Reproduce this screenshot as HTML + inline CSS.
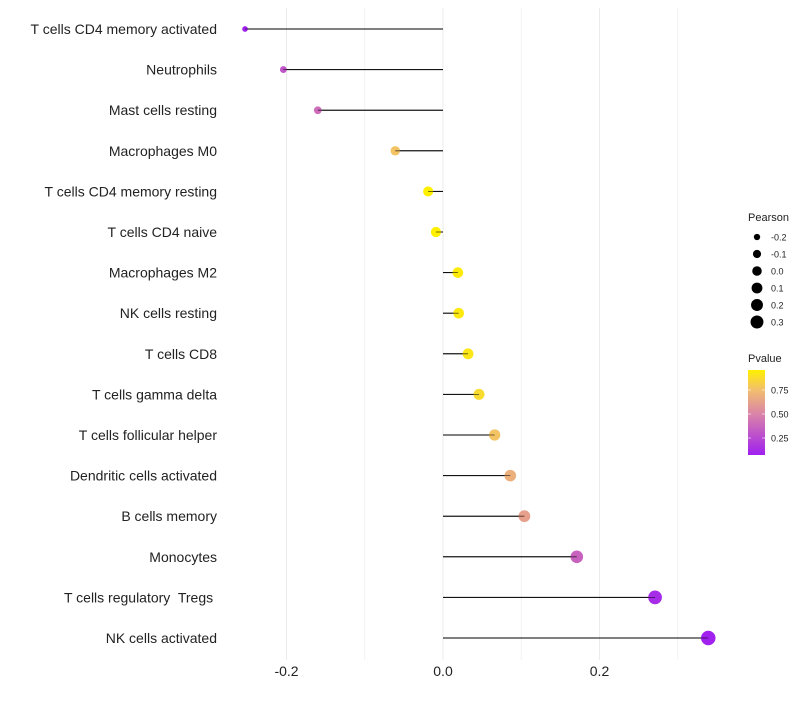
<!DOCTYPE html>
<html><head><meta charset="utf-8"><style>
body{margin:0;background:#fff;font-family:"Liberation Sans",sans-serif}
text{white-space:pre}
</style></head><body>
<svg id="c" width="800" height="700" xmlns="http://www.w3.org/2000/svg" font-family="Liberation Sans, sans-serif"></svg>
<script>
const categories=["T cells CD4 memory activated","Neutrophils","Mast cells resting","Macrophages M0","T cells CD4 memory resting","T cells CD4 naive","Macrophages M2","NK cells resting","T cells CD8","T cells gamma delta","T cells follicular helper","Dendritic cells activated","B cells memory","Monocytes","T cells regulatory  Tregs ","NK cells activated"];
const pearson=[-0.253,-0.204,-0.160,-0.061,-0.019,-0.009,0.019,0.020,0.032,0.046,0.066,0.086,0.104,0.171,0.271,0.339];
const pvalues=[0.08,0.30,0.40,0.77,0.96,0.96,0.94,0.93,0.92,0.87,0.77,0.69,0.62,0.36,0.12,0.08];
const xTicks=[-0.2,0.0,0.2];
const xMinor=[-0.1,0.1,0.3];
const sizeLegend=[-0.2,-0.1,0.0,0.1,0.2,0.3];
const colorTicks=[0.25,0.5,0.75];
const svg=document.getElementById('c');
const NS='http://www.w3.org/2000/svg';
const X=v=>443+v*782.5;
const Y=i=>29+i*40.6;
const R=v=>Math.max(1.8,Math.sqrt(Math.max(0,27+75*v)));
function lerp(a,b,t){return a.map((x,i)=>Math.round(x+(b[i]-x)*t));}
function col(p){const s=[[0.07,[160,32,240]],[0.5,[218,132,168]],[0.75,[242,190,110]],[0.96,[255,240,0]]];
 p=Math.max(0.07,Math.min(0.96,p));
 for(let i=0;i<s.length-1;i++){if(p<=s[i+1][0]){const t=(p-s[i][0])/(s[i+1][0]-s[i][0]);const c=lerp(s[i][1],s[i+1][1],t);return `rgb(${c})`;}}
 return 'rgb(255,240,0)';}
function el(t,a,txt){const e=document.createElementNS(NS,t);for(const k in a)e.setAttribute(k,a[k]);if(txt!==undefined)e.textContent=txt;svg.appendChild(e);return e;}
xMinor.forEach(v=>{const g=el('line',{x1:X(v),x2:X(v),y1:8,y2:660,stroke:'#f2f2f2','stroke-width':1});

});
xTicks.forEach(v=>{const g=el('line',{x1:X(v),x2:X(v),y1:8,y2:660,stroke:'#ebebeb','stroke-width':1});


const t=el('text',{x:X(v),y:676,'text-anchor':'middle','font-size':14,fill:'#222'},v.toFixed(1));

});
categories.forEach((c,i)=>{
 const t=el('text',{x:217,y:Y(i)+5,'text-anchor':'end','font-size':14,fill:'#222'},c);
 
 
 const l=el('line',{x1:X(0),x2:X(pearson[i]),y1:Y(i),y2:Y(i),stroke:'#000','stroke-width':1});
 
 
 const d=el('circle',{cx:X(pearson[i]),cy:Y(i),r:R(pearson[i]),fill:col(pvalues[i])});
 
 
 const l2=el('line',{x1:X(0),x2:X(pearson[i]),y1:Y(i),y2:Y(i),stroke:'#000','stroke-width':0.8,'stroke-opacity':0.7});
 
 
});
const lt=el('text',{x:748,y:221,'font-size':11,fill:'#222'},'Pearson');


sizeLegend.forEach((v,i)=>{const y=237+i*17;
 const d=el('circle',{cx:757,cy:y,r:R(v)*0.92,fill:'#000'});
 
 
 const t=el('text',{x:771,y:y+3.5,'font-size':9,fill:'#222'},v.toFixed(1));
 
 });
const pt=el('text',{x:748,y:362,'font-size':11,fill:'#222'},'Pvalue');


const defs=document.createElementNS(NS,'defs');svg.appendChild(defs);
const g=document.createElementNS(NS,'linearGradient');g.setAttribute('id','gr');g.setAttribute('x1',0);g.setAttribute('y1',1);g.setAttribute('x2',0);g.setAttribute('y2',0);defs.appendChild(g);
[0.07,0.3,0.5,0.75,0.96].forEach(p=>{const s=document.createElementNS(NS,'stop');s.setAttribute('offset',(p-0.07)/0.89);s.setAttribute('stop-color',col(p));g.appendChild(s);});
const cb=el('rect',{x:748,y:370,width:17,height:85,fill:'url(#gr)'});


colorTicks.forEach(v=>{const y=462-v*96;
 const a=el('line',{x1:748,x2:751,y1:y,y2:y,stroke:'#fff','stroke-opacity':0.6});
 
 
 const b=el('line',{x1:762,x2:765,y1:y,y2:y,stroke:'#fff','stroke-opacity':0.6});
 
 
 const t=el('text',{x:771,y:y+3.5,'font-size':9,fill:'#222'},v.toFixed(2));
 
 });
</script>
</body></html>
